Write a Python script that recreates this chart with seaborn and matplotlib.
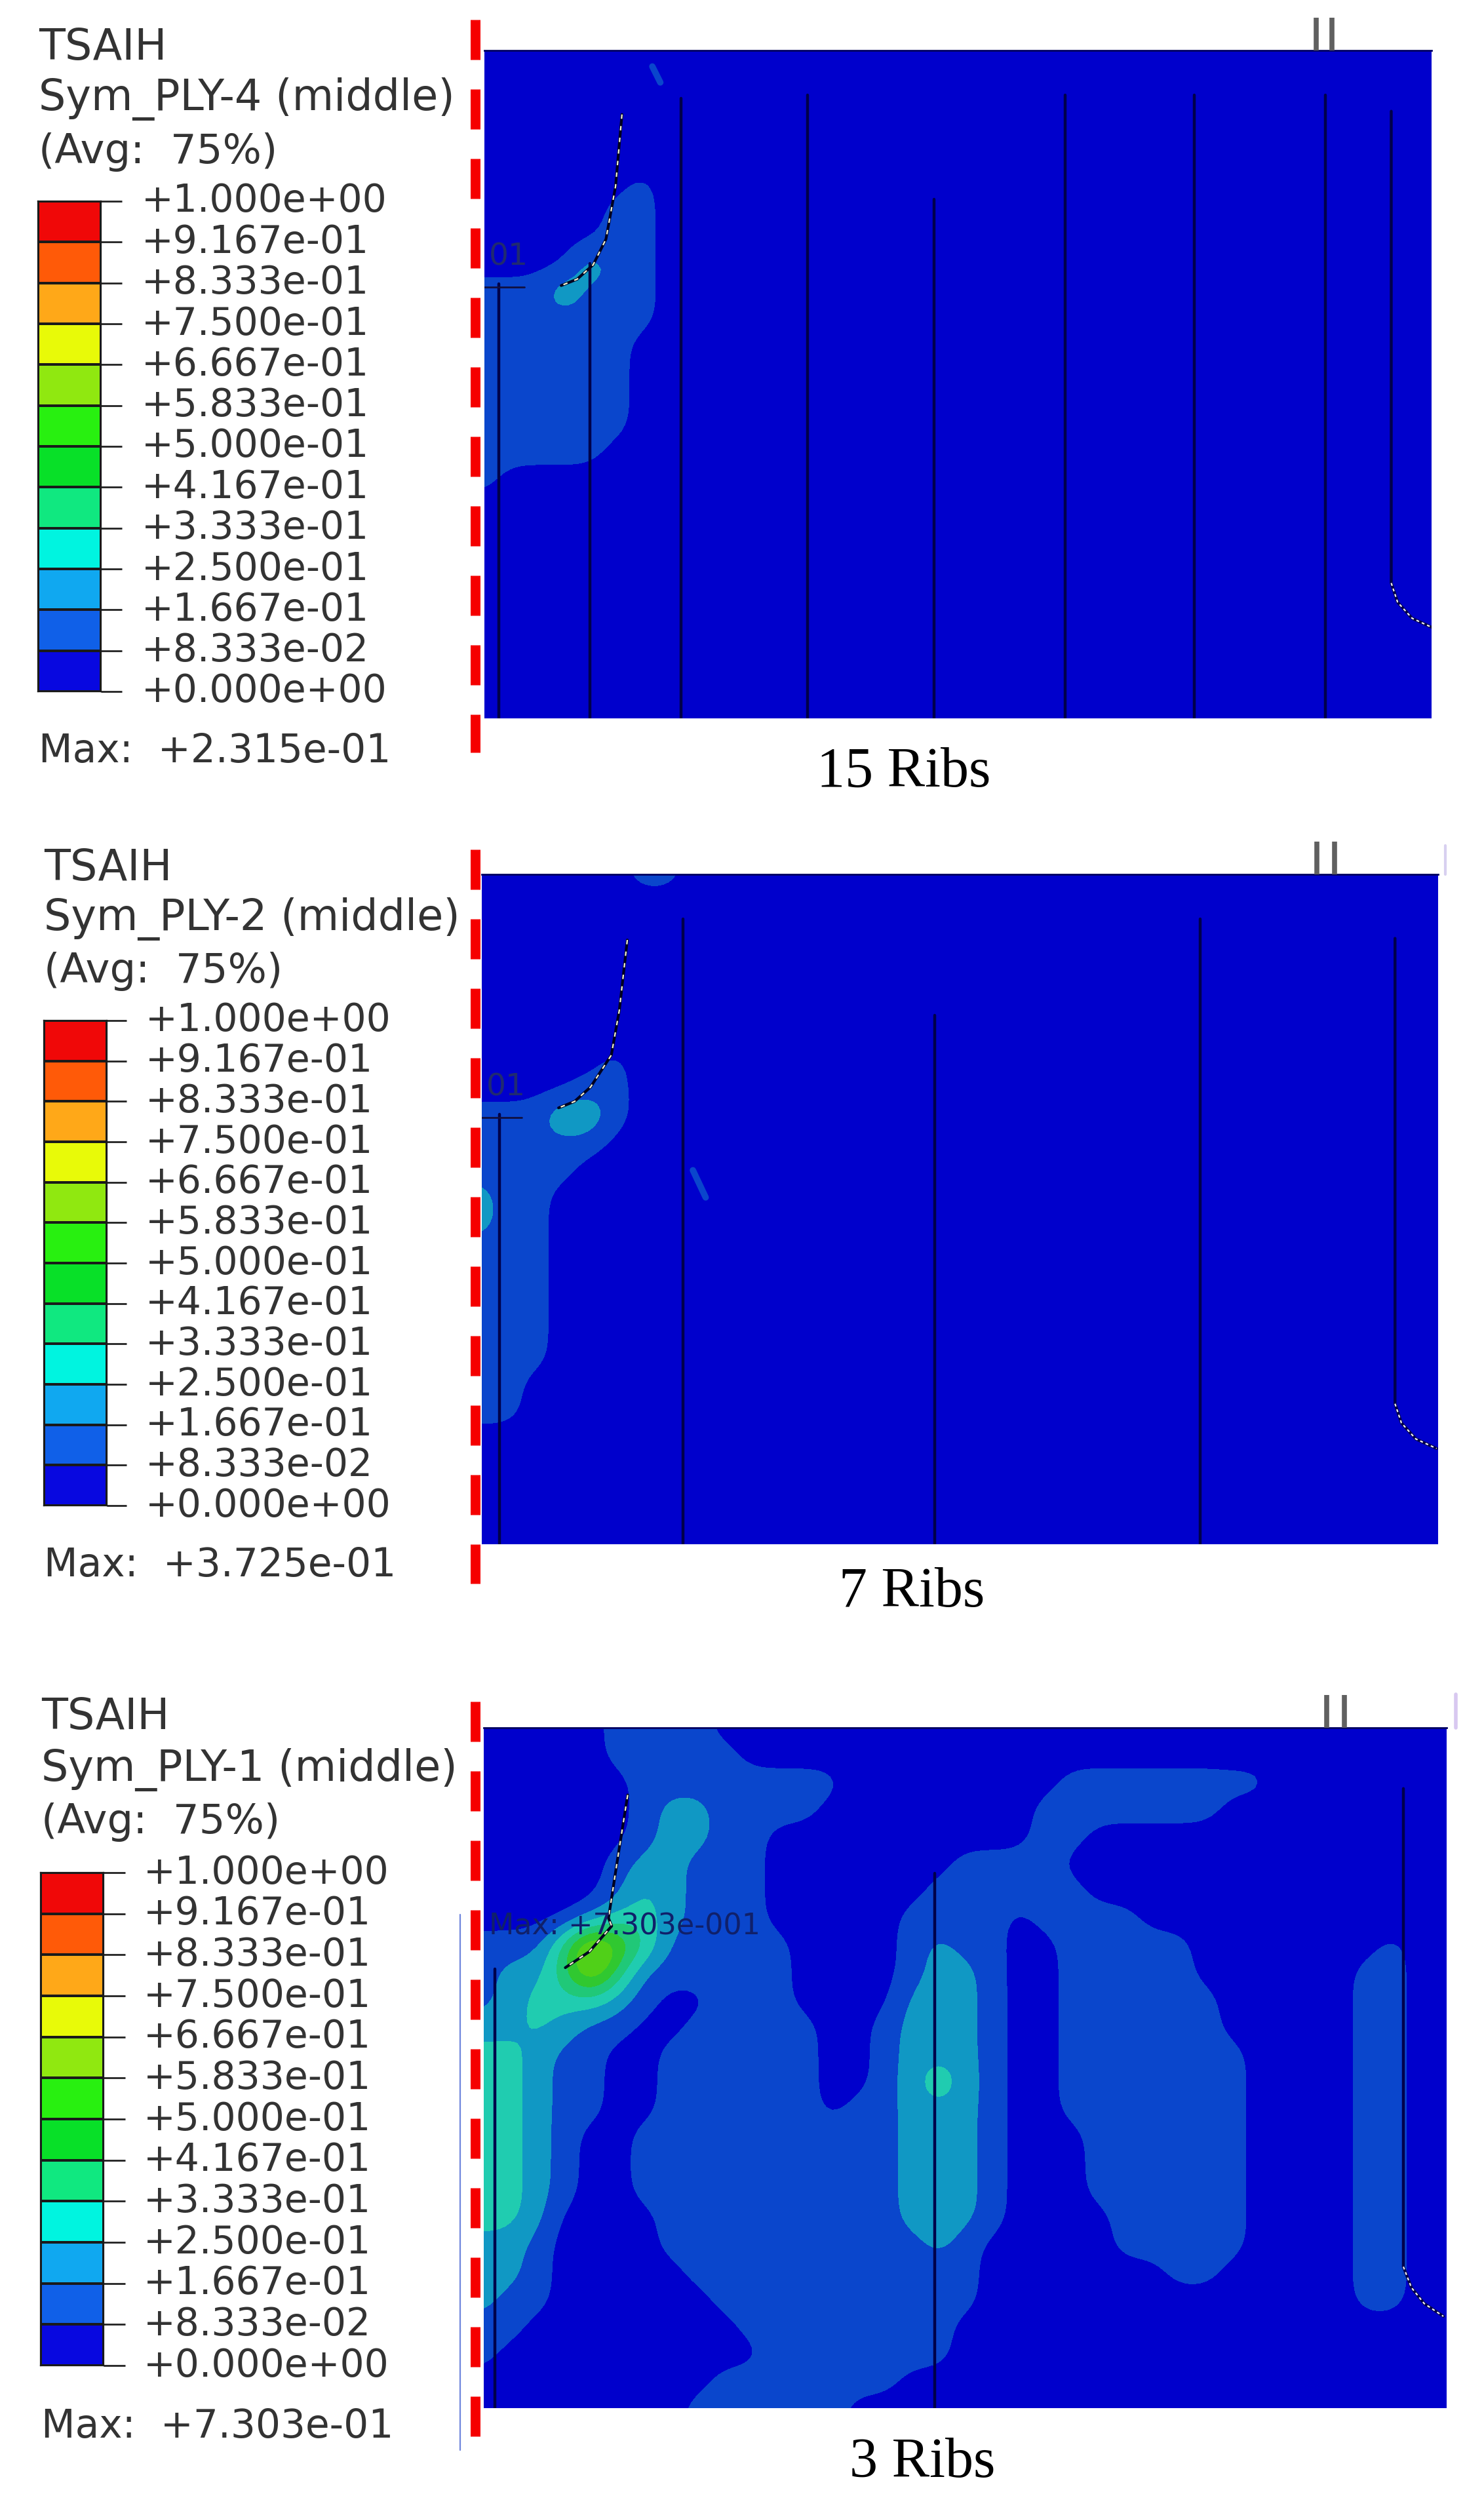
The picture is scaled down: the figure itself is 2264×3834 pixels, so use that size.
import numpy as np
import pandas as pd
import matplotlib
matplotlib.use("Agg")
import matplotlib.pyplot as plt
from matplotlib.colors import ListedColormap
import seaborn as sns

sns.set_theme(style="white")
plt.rcParams["font.family"] = ["DejaVu Sans"]

W, H = 2264, 3834
TEXT_COL = "#333333"

# legend values, top to bottom
tick_labels = ["+1.000e+00", "+9.167e-01", "+8.333e-01", "+7.500e-01", "+6.667e-01",
               "+5.833e-01", "+5.000e-01", "+4.167e-01", "+3.333e-01", "+2.500e-01",
               "+1.667e-01", "+8.333e-02", "+0.000e+00"]
band_index = list(range(11, -1, -1))
legend_colors = ["#0808e0", "#1060e8", "#10a8f0", "#00f4e0", "#10e880", "#08e028",
                 "#28f010", "#90e810", "#e8fa08", "#ffa818", "#ff5a08", "#f00808"]
field_colors = ["#0000cc", "#0a46cc", "#1098c4", "#20ccb0", "#20c878", "#30c830",
                "#50d018", "#90d018", "#e0e800", "#f0a010", "#f05a00", "#e00000"]
levels = [i / 12 for i in range(13)]

# contour band at each grid node, rows top to bottom (trailing zeros left off)
ply4_rows = ["", "", "", "", "", "0000001", "0000011", "00000110",
             "000031100", "1113111", "1111111", "111111", "111111", "111111", "111111", "11111", "1"]
ply2_rows = ["00000011", "", "", "", "", "", "", "000001", "000011",
             "111331", "11111", "1111", "211", "211", "111", "111", "111", "111", "111",
             "11", "11"]
ply1_rows = [
    "000001111",
    "0000011111",
    "000000" + "11111111" + "00000000" + "11111111",
    "000000" + "1221111" + "00000000" + "1111111",
    "000000" + "12211" + "0000000000" + "11",
    "00000" + "122111" + "0000000" + "1111",
    "00000" + "132111" + "000000" + "111111",
    "0000" + "1332111" + "00000" + "1111" + "0" + "1111",
    "1114" + "964" + "11111" + "0000" + "1211" + "00" + "11111" + "0000000" + "1",
    "1224" + "84" + "111111" + "0000" + "1221" + "00" + "11111" + "000000" + "11",
    "12333" + "21" + "00" + "111" + "0000" + "2221" + "00" + "111111" + "00000" + "11",
    "2232" + "11" + "00" + "11111" + "00" + "1" + "2221" + "00" + "111111" + "00000" + "11",
    "332" + "11" + "00" + "111111" + "00" + "1" + "2221" + "00" + "1111111" + "0000" + "11",
    "332" + "11" + "00" + "111111" + "00" + "1" + "2421" + "00" + "1111111" + "0000" + "11",
    "332" + "11" + "00" + "111111" + "0" + "11" + "2221" + "00" + "1111111" + "0000" + "11",
    "3321" + "00" + "1111111111" + "2221" + "000" + "111111" + "0000" + "11",
    "3321" + "00" + "1111111111" + "2221" + "000" + "111111" + "0000" + "11",
    "3321" + "00" + "1111111111" + "2221" + "000" + "111111" + "0000" + "11",
    "332" + "0000" + "111111111" + "2221" + "0000" + "11111" + "0000" + "11",
    "221" + "0000" + "1111111111" + "21" + "00000" + "11111" + "0000" + "11",
    "221" + "00000" + "11111111111" + "0000000" + "11" + "00000" + "11",
    "211" + "000000" + "1111111111" + "00000000000000" + "11",
    "11" + "00000000" + "11111111",
    "1" + "0000000000" + "1111111",
    "000000000" + "1111111",
    "00000000" + "111111",
]

# rib stations per panel: x, top
ply4_rib_x = [9, 66, 123, 202, 281, 363, 444, 526]
ply4_rib_top = [146, 133, 30, 28, 93, 28, 28, 28]
ply2_rib_x = [11, 126, 283, 449]
ply2_rib_top = [150, 28, 88, 28]
ply1_rib_x = [7, 282]
ply1_rib_top = [151, 91]

# curved flange near the root and the tip
ply4_root_x = [86, 82, 76, 68, 58, 48]
ply4_root_y = [40, 85, 118, 134, 143, 147]
ply2_root_x = [91, 86, 81, 68, 58, 48]
ply2_root_y = [41, 85, 113, 133, 142, 146]
ply1_root_x = [90, 84, 78, 80, 66, 51]
ply1_root_y = [42, 80, 119, 124, 140, 150]
ply4_tip_x = [567, 567, 571, 580, 593]
ply4_tip_y = [38, 333, 345, 355, 361]
ply2_tip_x = [571, 571, 575, 584, 597]
ply2_tip_y = [40, 331, 343, 353, 359]
ply1_tip_x = [575, 575, 580, 588, 600]
ply1_tip_y = [38, 337, 350, 360, 368]

# slivers of the next band, too thin for the grid
ply4_sliver_x = [105, 110]
ply4_sliver_y = [10, 20]
ply2_sliver_x = [132, 140]
ply2_sliver_y = [185, 202]

panels = [
    dict(name="Sym_PLY-4 (middle)", max_txt="Max:  +2.315e-01", caption="15 Ribs", rows=ply4_rows,
         rect=(739, 77, 2184, 1096), bar=(58, 154, 186, 307, 1055), lab_x=216, txt_x=59,
         txt_y=(68, 145, 229, 1142), cap=(1379, 1179), red=(725, 30, 1148),
         rib_x=ply4_rib_x, rib_top=ply4_rib_top, root=(ply4_root_x, ply4_root_y),
         tip=(ply4_tip_x, ply4_tip_y), marks=[520, 530], stub=True,
         sliver=(ply4_sliver_x, ply4_sliver_y)),
    dict(name="Sym_PLY-2 (middle)", max_txt="Max:  +3.725e-01", caption="7 Ribs", rows=ply2_rows,
         rect=(735, 1334, 2194, 2356), bar=(67, 163, 193, 1557, 2297), lab_x=222, txt_x=67,
         txt_y=(1320, 1396, 1479, 2384), cap=(1391, 2430), red=(725, 1296, 2416),
         rib_x=ply2_rib_x, rib_top=ply2_rib_top, root=(ply2_root_x, ply2_root_y),
         tip=(ply2_tip_x, ply2_tip_y), marks=[522, 533], stub=True,
         sliver=(ply2_sliver_x, ply2_sliver_y)),
    dict(name="Sym_PLY-1 (middle)", max_txt="Max:  +7.303e-01", caption="3 Ribs", rows=ply1_rows,
         rect=(738, 2636, 2207, 3674), bar=(62, 158, 191, 2857, 3609), lab_x=219, txt_x=63,
         txt_y=(2615, 2694, 2777, 3698), cap=(1407, 3758), red=(725, 2596, 3717),
         rib_x=ply1_rib_x, rib_top=ply1_rib_top, root=(ply1_root_x, ply1_root_y),
         tip=(ply1_tip_x, ply1_tip_y), marks=[527, 538], stub=False, sliver=None),
]

fig = plt.figure(figsize=(W / 100, H / 100), dpi=100)
fig.patch.set_facecolor("white")


def px_axes(x0, y0, x1, y1, **kw):
    return fig.add_axes([x0 / W, 1 - y1 / H, (x1 - x0) / W, (y1 - y0) / H], **kw)


def rounded(grid, f=5, sigma=0.6):
    # block up the nodes and blur a little, so the bands come out round like the FE plot
    big = np.repeat(np.repeat(grid, f, axis=0), f, axis=1)
    r = int(3 * sigma * f)
    k = np.exp(-0.5 * (np.arange(-r, r + 1) / (sigma * f)) ** 2)
    k /= k.sum()
    big = np.pad(big, r, mode="edge")
    big = np.apply_along_axis(lambda v: np.convolve(v, k, mode="same"), 0, big)
    big = np.apply_along_axis(lambda v: np.convolve(v, k, mode="same"), 1, big)
    return big[r:-r, r:-r]


# overlay in pixels, for the labels and the red symmetry line
over = px_axes(0, 0, W, H)
over.set_xlim(0, W)
over.set_ylim(H, 0)
over.axis("off")
over.set_zorder(5)

for p in panels:
    # stress field
    x0, y0, x1, y1 = p["rect"]
    ax = px_axes(x0, y0, x1, y1)
    pw, ph = (x1 - x0) / 2.44, (y1 - y0) / 2.44
    grid = np.array([[int(c) for c in r.ljust(37, "0")] for r in p["rows"]], dtype=float)
    grid = np.vstack([grid, np.zeros((26 - grid.shape[0], 37))])
    field = rounded((grid + 0.5) / 12)
    xs = ((np.arange(field.shape[1]) + 0.5) / 5 - 0.5) * pw / 36
    ys = ((np.arange(field.shape[0]) + 0.5) / 5 - 0.5) * ph / 25
    ax.contourf(xs, ys, field, levels=levels, colors=field_colors)
    ax.set_xlim(0, pw)
    ax.set_ylim(ph, 0)
    ax.set_xticks([])
    ax.set_yticks([])
    ax.grid(False)
    for s in ax.spines.values():
        s.set_visible(False)
    ax.spines["top"].set_visible(True)
    ax.spines["top"].set_color("#000060")
    ax.spines["top"].set_linewidth(2)

    if p["sliver"]:
        ax.plot(*p["sliver"], color=field_colors[1], lw=7, solid_capstyle="round")

    # ribs
    for rx, rt in zip(p["rib_x"], p["rib_top"]):
        sns.lineplot(x=[rx, rx], y=[rt, ph], ax=ax, color="#00004a", lw=3.2,
                     estimator=None, sort=False, legend=False)
    rx, ry = p["root"]
    sns.lineplot(x=rx, y=ry, ax=ax, color="#000020", lw=3.0, estimator=None, sort=False, legend=False)
    ax.plot(rx, ry, color="#f4f4d0", lw=1.6, dashes=(3, 5))
    tx, ty = p["tip"]
    sns.lineplot(x=tx, y=ty, ax=ax, color="#00004a", lw=3.2, estimator=None, sort=False, legend=False)
    ax.plot(tx[1:], ty[1:], color="#f0f0f0", lw=1.6, dashes=(2, 2))
    if p["stub"]:
        ax.plot([0, 25], [p["rib_top"][0] + 2] * 2, color="#101040", lw=2)
        ax.text(3, p["rib_top"][0] - 17, "01", fontsize=34, color="#202a70", va="center", ha="left")
    else:
        ax.text(173, 124, "Max: +7.303e-001", fontsize=32, color="#10206a", va="center", ha="right",
                clip_on=True)

    # marks above the top edge
    for m in p["marks"]:
        mx = x0 + m * 2.44
        over.plot([mx, mx], [y0 - 50, y0], color="#606060", lw=5.5, solid_capstyle="butt")

    # legend bar
    bx0, bx1, bx2, by0, by1 = p["bar"]
    cax = px_axes(bx0, by0, bx1, by1)
    cells = pd.DataFrame({"band": band_index}).values
    sns.heatmap(cells, ax=cax, cmap=ListedColormap(legend_colors), vmin=-0.5, vmax=11.5, cbar=False,
                linewidths=1.6, linecolor="#1a1a1a", xticklabels=False, yticklabels=False)
    cax.set_xticks([])
    cax.yaxis.tick_right()
    cax.set_yticks(range(13))
    cax.set_yticklabels(tick_labels, rotation=0, fontsize=42, color=TEXT_COL, va="center")
    tick_pt = (bx2 - bx1) * 0.72
    cax.tick_params(axis="y", right=True, left=False, length=tick_pt, width=2, color="#222222",
                    pad=(p["lab_x"] - bx2) * 0.72)
    for s in cax.spines.values():
        s.set_visible(True)
        s.set_color("#1a1a1a")
        s.set_linewidth(1.6)

    # header and footer text
    for y, dy, fs, t in zip(p["txt_y"], [5, 6, 3, 5], [47, 47, 45, 43],
                            ["TSAIH", p["name"], "(Avg:  75%)", p["max_txt"]]):
        over.text(p["txt_x"], y + dy, t, fontsize=fs, color=TEXT_COL, va="center", ha="left")
    over.text(p["cap"][0], p["cap"][1], p["caption"], fontsize=62, family="Liberation Serif",
              color="black", va="center", ha="center")

    # symmetry line
    rx_, ry0, ry1 = p["red"]
    line, = over.plot([rx_, rx_], [ry0, ry1], color="#f50000", lw=10.8, solid_capstyle="butt")
    line.set_dashes((61 / 15, 45 / 15))
    line.set_dash_capstyle("butt")

# thin blue line beside the last panel, pale ticks at the top right
over.plot([702, 702], [2921, 3738], color="#6f86dc", lw=1.6)
over.plot([2205, 2205], [1290, 1334], color="#d8d0f0", lw=3)
over.plot([2221, 2221], [2585, 2636], color="#d8c8f0", lw=4)

fig.savefig("out.png", dpi=100)
